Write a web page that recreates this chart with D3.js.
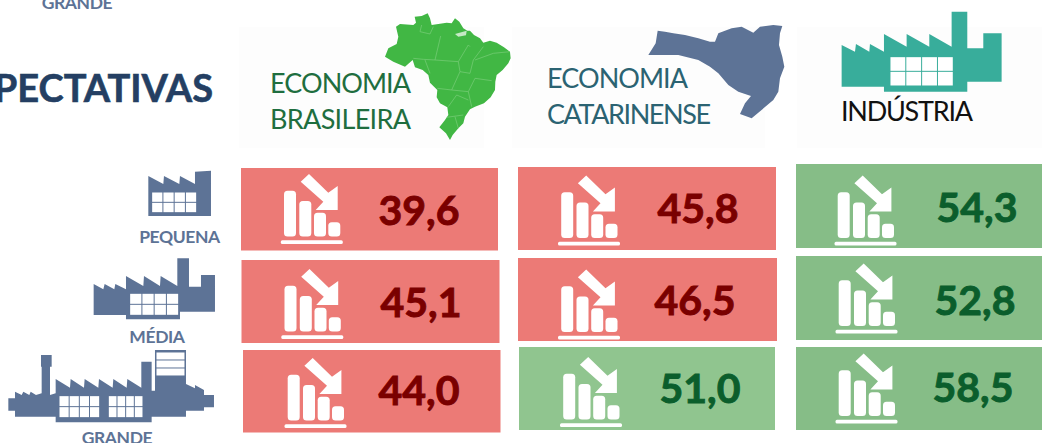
<!DOCTYPE html>
<html>
<head>
<meta charset="utf-8">
<script src="https://cdn.jsdelivr.net/npm/d3@7"></script>
<style>
  html, body { margin: 0; padding: 0; background: #fff; overflow: hidden; }
  svg { display: block; font-family: Lato, sans-serif; }
</style>
</head>
<body>
<div id="graph"></div>
<script>
// values
const sizes = ['PEQUENA', 'MÉDIA', 'GRANDE'];
const sectors = ['ECONOMIA BRASILEIRA', 'ECONOMIA CATARINENSE', 'INDÚSTRIA'];
const economiaBrasileira = [39.6, 45.1, 44.0];
const economiaCatarinense = [45.8, 46.5, 51.0];
const industria = [54.3, 52.8, 58.5];
const series = [economiaBrasileira, economiaCatarinense, industria];

const W = 1042, H = 443;
const BLUE = '#5d7396';

const svg = d3.select('#graph').append('svg').attr('width', W).attr('height', H);

// the cards are not quite aligned in the original, so one lookup per column
const cardX = sectors.map((s, i) => d3.scaleOrdinal(sizes, [[241, 241.5, 243], [518, 518, 519], [796, 796, 796]][i]));
const cardRight = sectors.map((s, i) => d3.scaleOrdinal(sizes, [[498, 499.5, 500.5], [776, 777, 775], [1042, 1042, 1042]][i]));
const cardTop = sectors.map((s, i) => d3.scaleOrdinal(sizes, [[168, 260, 350], [167, 258, 347], [164, 256, 347]][i]));
const cardBottom = sectors.map((s, i) => d3.scaleOrdinal(sizes, [[250.5, 343, 432.5], [250, 341, 430], [248, 340, 430]][i]));
const iconX = sectors.map((s, i) => d3.scaleOrdinal(sizes, [[240.3, 240.8, 244], [517.5, 517.5, 519.5], [794, 795, 795]][i]));
const iconY = sectors.map((s, i) => d3.scaleOrdinal(sizes, [[168, 263, 352], [169.5, 263.5, 351], [169.5, 257.5, 347.5]][i]));
const labelX = sectors.map((s, i) => d3.scaleOrdinal(sizes, [[419, 421, 419], [698, 695, 700], [977, 975, 973]][i]));
const labelY = sectors.map((s, i) => d3.scaleOrdinal(sizes, [[225, 317, 405], [223, 315, 403], [222, 315, 402]][i]));

// below 50 is pessimistic. the catarinense green is a bit lighter in the original
const fills = sectors.map((s, i) => d3.scaleThreshold().domain([50]).range(['#ec7a76', i === 1 ? '#90c58f' : '#86bd87']));
const ink = d3.scaleThreshold().domain([50]).range(['#7a0000', '#0b5e2c']);
const fmt = v => d3.format('.1f')(v).replace('.', ',');

// pale panels behind the headers
svg.selectAll('.panel').data([[239, 245], [512, 253], [797, 245]]).enter()
  .append('rect').attr('class', 'panel')
  .attr('x', d => d[0]).attr('y', 27).attr('width', d => d[1]).attr('height', 121)
  .attr('fill', '#fdfdfd');

// outlines traced at 3x, so they get drawn with scale(1/3)
const pts = a => 'M' + a.map(p => p.join(',')).join('L') + 'Z';
const third = (x, y) => `translate(${x},${y}) scale(0.3333)`;

const brazil = [[48,50],[60,42],[100,45],[108,38],[104,20],[125,18],[143,10],[150,25],[155,45],[175,42],[200,38],[215,40],[225,25],[238,35],[250,55],[262,62],[270,62],[282,75],[300,85],[310,98],[330,92],[350,98],[372,112],[390,125],[392,145],[385,160],[368,180],[350,195],[346,215],[345,240],[332,262],[312,280],[285,290],[270,298],[255,320],[250,340],[235,355],[218,375],[210,390],[198,370],[178,352],[195,330],[205,315],[202,292],[180,280],[170,262],[172,240],[150,218],[145,195],[128,180],[105,172],[98,150],[75,170],[40,155],[15,140],[25,115],[50,102],[55,80]];
const brazilLines = ['M125,45L120,65L150,72L160,50', 'M182,78L165,150L235,155L265,105L270,110', 'M100,145L130,148L165,150', 'M235,155L240,185L270,190L280,150L310,110', 'M240,185L215,240L172,235', 'M135,150L150,190', 'M215,240L265,245L285,205L335,212', 'M285,150L340,130L390,125', 'M265,245L275,290', 'M205,290L230,255L265,270', 'M200,322L250,315', 'M225,320L235,355'];
const marajo = [[225,72],[260,62],[258,76],[235,80]];
const catarina = [[38,32],[60,35],[85,40],[120,45],[160,55],[195,65],[210,65],[220,40],[260,25],[290,20],[325,38],[345,20],[385,15],[412,18],[405,40],[402,75],[412,110],[418,140],[405,175],[400,215],[385,240],[320,295],[285,282],[300,250],[318,228],[280,215],[250,195],[220,160],[195,140],[160,120],[100,105],[10,105],[32,70]];

const map1 = svg.append('g').attr('transform', third(380, 10));
map1.append('path').attr('d', pts(brazil)).attr('fill', '#41b744');
map1.append('path').attr('d', pts(marajo)).attr('fill', '#c5e9c5');
map1.selectAll('.state').data(brazilLines).enter().append('path')
  .attr('d', d => d).attr('fill', 'none').attr('stroke', '#7ccf7c').attr('stroke-width', 2);

svg.append('g').attr('transform', third(645, 20))
  .append('path').attr('d', pts(catarina)).attr('fill', BLUE);

// factories: body outline plus blocks of window panes
function factory(tx, ty, color, body, windows) {
  const g = svg.append('g').attr('transform', third(tx, ty));
  g.append('path').attr('d', pts(body)).attr('fill', color);
  windows.forEach(w => {
    const pw = (w.x1 - w.x0) / w.cols, ph = (w.y1 - w.y0) / w.rows;
    const cells = d3.cross(d3.range(w.cols), d3.range(w.rows));
    g.selectAll(null).data(cells).enter().append('rect')
      .attr('x', d => w.x0 + d[0] * pw + 1.5).attr('y', d => w.y0 + d[1] * ph + 1.5)
      .attr('width', pw - 3).attr('height', ph - 3).attr('fill', '#fff');
  });
}

factory(520, 0, '#38ad9b',
  [[965,135],[1005,155],[1008,132],[1048,155],[1050,132],[1092,155],[1092,102],[1160,140],[1160,102],[1228,140],[1228,102],[1295,140],[1295,35],[1342,35],[1342,145],[1390,145],[1390,100],[1445,100],[1445,245],[1342,245],[1342,275],[1092,275],[1092,260],[965,260]],
  [{ x0: 1110, x1: 1300, y0: 170, y1: 258, cols: 4, rows: 2 }]);

factory(0, 160, BLUE,
  [[445,48],[490,72],[492,48],[538,72],[540,48],[585,72],[585,35],[633,32],[633,168],[445,168]],
  [{ x0: 455, x1: 590, y0: 96, y1: 158, cols: 4, rows: 2 }]);

factory(0, 160, BLUE,
  [[281,372],[310,388],[314,372],[343,388],[346,372],[378,388],[378,348],[430,378],[432,348],[480,378],[482,348],[532,378],[532,295],[567,295],[567,380],[603,380],[603,345],[645,345],[645,455],[540,455],[540,478],[378,478],[378,465],[281,465]],
  [{ x0: 389, x1: 536, y0: 400, y1: 466, cols: 4, rows: 2 }]);

factory(0, 160, BLUE,
  [[25,715],[45,715],[45,695],[65,705],[70,695],[88,705],[92,695],[108,705],[125,700],[125,620],[123,620],[123,585],[155,585],[155,620],[150,620],[150,705],[167,700],[167,657],[210,683],[212,657],[252,683],[254,657],[295,683],[297,657],[338,683],[340,657],[380,683],[382,657],[424,683],[424,605],[455,605],[455,692],[465,692],[465,570],[558,570],[558,672],[585,685],[585,675],[612,690],[612,705],[642,705],[642,742],[612,742],[612,752],[558,752],[558,770],[455,770],[455,787],[167,787],[167,770],[45,770],[45,752],[25,752]],
  [{ x0: 177, x1: 299, y0: 707, y1: 773, cols: 4, rows: 2 },
   { x0: 325, x1: 429, y0: 707, y1: 773, cols: 4, rows: 2 },
   { x0: 468, x1: 555, y0: 576, y1: 648, cols: 1, rows: 3 }]);

// header texts, fitted to the widths in the picture
const headers = [
  { t: 'ECONOMIA', x: 270, y: 93, w: 141, c: '#1f6e3f' },
  { t: 'BRASILEIRA', x: 270, y: 129, w: 141, c: '#1f6e3f' },
  { t: 'ECONOMIA', x: 547, y: 88, w: 141, c: '#2b6372' },
  { t: 'CATARINENSE', x: 547, y: 124, w: 164, c: '#2b6372' },
  { t: 'INDÚSTRIA', x: 841, y: 121, w: 132, c: '#111' }
];
svg.selectAll('.header').data(headers).enter().append('text').attr('class', 'header')
  .attr('x', d => d.x).attr('y', d => d.y).attr('fill', d => d.c)
  .attr('font-size', 27).attr('textLength', d => d.w).attr('lengthAdjust', 'spacing')
  .text(d => d.t);

svg.append('text').attr('x', 213).attr('y', 102).attr('text-anchor', 'end')
  .attr('font-size', 38).attr('font-weight', 700).attr('fill', '#243f63')
  .attr('stroke', '#243f63').attr('stroke-width', 0.6).text('PECTATIVAS');

// size labels, GRANDE is cut by the image edges twice
const sizeLabels = [
  { t: 'PEQUENA', x: 179.5, y: 243 },
  { t: 'MÉDIA', x: 157, y: 343 },
  { t: 'GRANDE', x: 117, y: 444 },
  { t: 'GRANDE', x: 77, y: 9 }
];
svg.selectAll('.size').data(sizeLabels).enter().append('text').attr('class', 'size')
  .attr('x', d => d.x).attr('y', d => d.y).attr('text-anchor', 'middle')
  .attr('font-size', 17.5).attr('font-weight', 700).attr('letter-spacing', -0.4)
  .attr('fill', BLUE).text(d => d.t);

// cards
const bars = [[43.7, 22.7], [59, 33], [73.7, 44.7], [88, 54.3]];
const arrow = [[68.7,6],[88,24.7],[97.4,18],[97.4,42],[75.4,42],[83,33.7],[60.4,13.7]];

sectors.forEach((sector, i) => {
  const cards = svg.append('g').selectAll('g').data(series[i]).enter().append('g');
  cards.append('rect')
    .attr('x', (d, j) => cardX[i](sizes[j]))
    .attr('y', (d, j) => cardTop[i](sizes[j]))
    .attr('width', (d, j) => cardRight[i](sizes[j]) - cardX[i](sizes[j]))
    .attr('height', (d, j) => cardBottom[i](sizes[j]) - cardTop[i](sizes[j]))
    .attr('fill', d => fills[i](d));

  const icon = cards.append('g')
    .attr('transform', (d, j) => `translate(${iconX[i](sizes[j])},${iconY[i](sizes[j])})`);
  icon.selectAll('.bar').data(bars).enter().append('rect').attr('class', 'bar')
    .attr('x', d => d[0]).attr('y', d => d[1]).attr('width', 12).attr('height', d => 68.5 - d[1])
    .attr('rx', 3.5).attr('fill', '#fff');
  icon.append('rect').attr('x', 40.5).attr('y', 72.3).attr('width', 62).attr('height', 3.7)
    .attr('rx', 1.5).attr('fill', '#fff');
  icon.append('path').attr('d', pts(arrow)).attr('fill', '#fff');

  cards.append('text')
    .attr('x', (d, j) => labelX[i](sizes[j]))
    .attr('y', (d, j) => labelY[i](sizes[j]))
    .attr('text-anchor', 'middle')
    .attr('font-size', 41).attr('font-weight', 700)
    .attr('fill', d => ink(d)).attr('stroke', d => ink(d)).attr('stroke-width', 0.9)
    .text(d => fmt(d));
});
</script>
</body>
</html>
